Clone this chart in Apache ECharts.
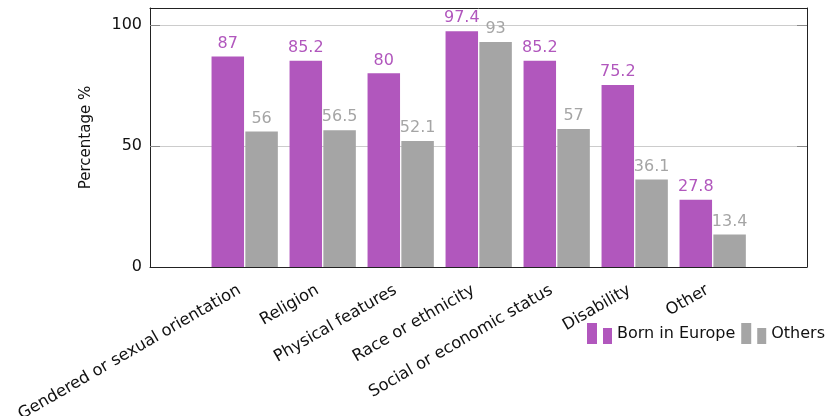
<!DOCTYPE html>
<html>
<head>
<meta charset="utf-8">
<script src="https://cdn.jsdelivr.net/npm/echarts@6/dist/echarts.min.js"></script>
<style>html,body{margin:0;padding:0;background:#fff}#c{width:827px;height:416px}</style>
</head>
<body>
<div id="c"></div>
<script>
const categories = ['Gendered or sexual orientation','Religion','Physical features','Race or ethnicity','Social or economic status','Disability','Other'];
const bornInEurope = [87, 85.2, 80, 97.4, 85.2, 75.2, 27.8];
const others = [56, 56.5, 52.1, 93, 57, 36.1, 13.4];
const yTicks = [0, 50, 100];
const seriesNames = ['Born in Europe', 'Others'];

const FONT = 'DejaVu Sans';
const PURPLE = '#b157bd';
const GRAY = '#a5a5a5';
const idx = categories.map((c, i) => i);
const innerTicks = yTicks.filter(v => v > 0);

const chart = echarts.init(document.getElementById('c'), null, {renderer: 'canvas'});
const labelCfg = (color) => ({
  show: true, position: 'top', distance: 5, color: color,
  fontFamily: FONT, fontSize: 16
});
const legendIcon = 'path://M0,0h10v21h-10z M16,5h9v16h-9z';
chart.setOption({
  animation: false,
  textStyle: {fontFamily: FONT},
  grid: {left: 150, right: 20, top: 8, bottom: 149, show: false, outerBoundsMode: 'none', containLabel: false},
  legend: {
    left: 587, top: 323, itemWidth: 25, itemHeight: 21, itemGap: 6, padding: 0,
    orient: 'horizontal', width: 240,
    textStyle: {fontFamily: FONT, fontSize: 16, color: '#111'},
    data: [
      {name: seriesNames[0], icon: legendIcon},
      {name: seriesNames[1], icon: legendIcon}
    ]
  },
  xAxis: [{
    type: 'value', min: -1.214, max: 7.209, position: 'bottom',
    axisLine: {show: true, onZero: false, lineStyle: {color: '#222'}},
    axisTick: {show: false},
    splitLine: {show: false},
    axisLabel: {
      customValues: idx, rotate: 30, margin: 19, color: '#111',
      fontFamily: FONT, fontSize: 16.3, padding: [0, 6, 8, 0],
      formatter: (v) => categories[Math.round(v)] || ''
    }
  }, {
    type: 'value', min: -1.214, max: 7.209, position: 'top',
    axisLine: {show: true, onZero: false, lineStyle: {color: '#222'}},
    axisTick: {show: false}, splitLine: {show: false}, axisLabel: {show: false}
  }],
  yAxis: [{
    type: 'value', min: 0, max: 107, interval: 50, position: 'left',
    name: 'Percentage %', nameLocation: 'middle', nameGap: 56,
    nameTextStyle: {fontFamily: FONT, fontSize: 15, color: '#111'},
    axisLine: {show: true, onZero: false, lineStyle: {color: '#222'}},
    axisTick: {show: true, inside: true, length: 10, customValues: innerTicks, lineStyle: {color: '#888'}},
    splitLine: {show: true, lineStyle: {color: '#cccccc'}},
    axisLabel: {customValues: yTicks, color: '#111', fontFamily: FONT, fontSize: 16, margin: 8}
  }, {
    type: 'value', min: 0, max: 107, interval: 50, position: 'right',
    axisLine: {show: true, onZero: false, lineStyle: {color: '#222'}},
    axisTick: {show: true, inside: true, length: 10, customValues: innerTicks, lineStyle: {color: '#888'}},
    splitLine: {show: false},
    axisLabel: {show: false}
  }],
  series: [{
    name: seriesNames[0], type: 'bar', barWidth: 32.5, barGap: '4%',
    itemStyle: {color: PURPLE},
    label: labelCfg(PURPLE),
    data: bornInEurope.map((v, i) => [i, v])
  }, {
    name: seriesNames[1], type: 'bar', barWidth: 32.5, barGap: '4%',
    itemStyle: {color: GRAY},
    label: labelCfg(GRAY),
    data: others.map((v, i) => [i, v])
  }]
});
</script>
</body>
</html>
